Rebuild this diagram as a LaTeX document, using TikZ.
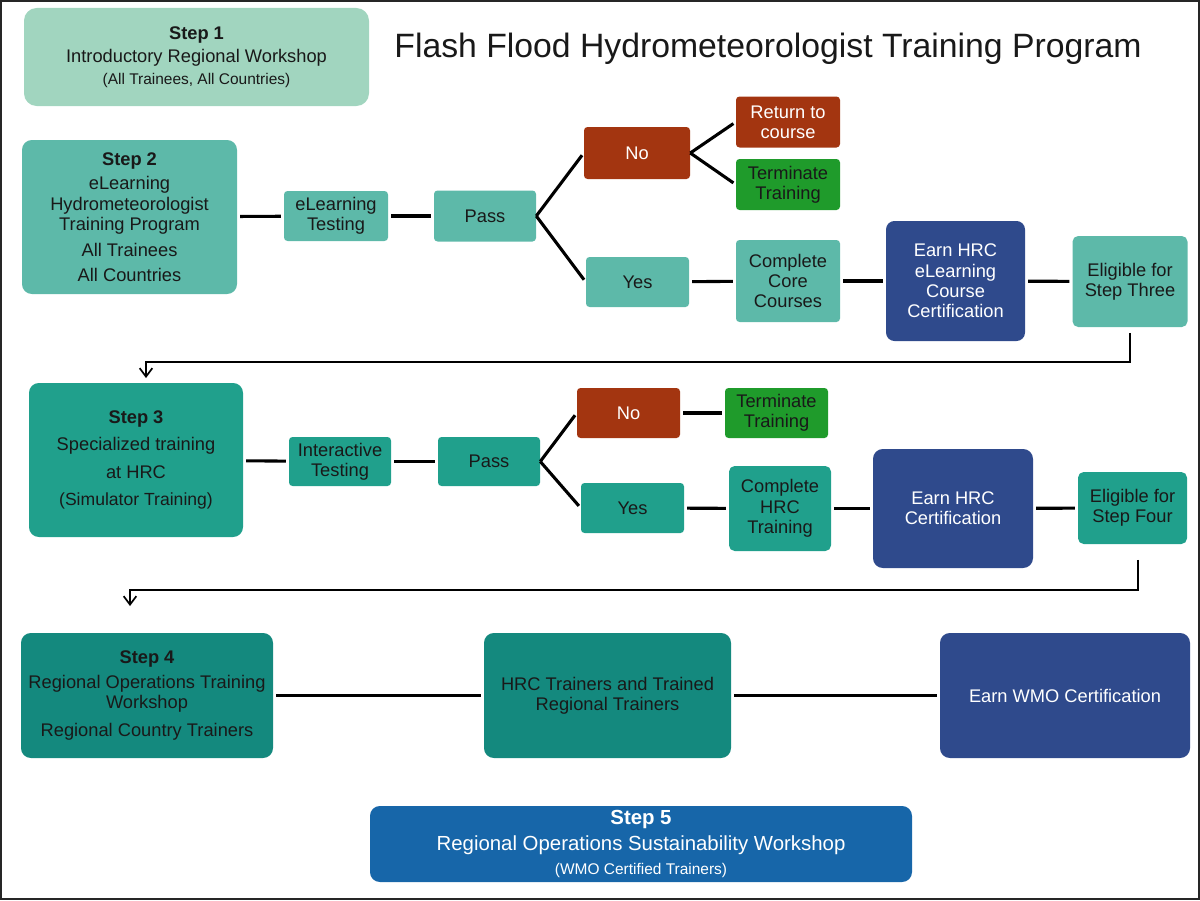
\documentclass[tikz,border=0pt]{standalone}
\usepackage{fontspec}
\setmainfont{Liberation Sans}
\usetikzlibrary{arrows.meta,positioning,calc}

\definecolor{stepone}{HTML}{A1D5BF}
\definecolor{tealtwo}{HTML}{5DB9A9}
\definecolor{tealthree}{HTML}{20A08C}
\definecolor{tealfour}{HTML}{14897E}
\definecolor{failbrown}{HTML}{A33510}
\definecolor{stopgreen}{HTML}{1F9B2B}
\definecolor{certnavy}{HTML}{2F4A8C}
\definecolor{stepfive}{HTML}{1766A9}

\tikzset{
    box/.style={rectangle, rounded corners=2.5pt, inner sep=0pt, align=center,
        text=black!90, font=\fontsize{13}{14.5}\selectfont},
    sz/.style 2 args={minimum width=#1*0.025cm, minimum height=#2*0.025cm},
    link/.style={line width=2.2pt, shorten <=2pt, shorten >=2pt},
    back/.style={line width=1pt, -{Straight Barb[length=6pt,width=9pt,line width=1.2pt]}}
}

\begin{document}
\begin{tikzpicture}[x=0.025cm,y=-0.025cm]
        \useasboundingbox (0,0) rectangle (1200,900);
        \draw[line width=1.4pt,black!85] (1,1) rectangle (1199,899);

        % Step 1 and title
        \node[box, sz={345}{98}, fill=stepone, rounded corners=9pt] (step1) at (196.5,57)
            {\textbf{Step 1}\\[2pt]Introductory Regional Workshop\\[1pt]{\fontsize{11}{13}\selectfont (All Trainees, All Countries)}};
        \node[font=\fontsize{24}{28}\selectfont, text=black!90] (title) at (768,49)
            {Flash Flood Hydrometeorologist Training Program};

        % Step 2 row
        \node[box, sz={215}{154}, fill=tealtwo, rounded corners=7pt] (step2) at (129.5,217)
            {\textbf{Step 2}\\[3pt]eLearning\\Hydrometeorologist\\Training Program\\[4pt]All Trainees\\[3pt]All Countries};
        \node[box, sz={104}{50}, fill=tealtwo] (etest) at (336,216) {eLearning\\Testing};
        \node[box, sz={102}{51}, fill=tealtwo] (pass1) at (485,216) {Pass};
        \node[box, sz={106}{52}, fill=failbrown, text=white] (no1) at (637,153) {No};
        \node[box, sz={104}{51}, fill=failbrown, text=white] (return) at (788,122) {Return to\\course};
        \node[box, sz={104}{51}, fill=stopgreen] (stop1) at (788,184.5) {Terminate\\Training};
        \node[box, sz={103}{50}, fill=tealtwo] (yes1) at (637.5,282) {Yes};
        \node[box, sz={104}{82}, fill=tealtwo] (core) at (788,281) {Complete\\Core\\Courses};
        \node[box, sz={139}{120}, fill=certnavy, text=white, rounded corners=6pt] (earn1) at (955.5,281)
            {Earn HRC\\eLearning\\Course\\Certification};
        \node[box, sz={115}{91}, fill=tealtwo, rounded corners=4pt] (elig1) at (1130,281.5) {Eligible for\\Step Three};

        \draw[link] (step2) -- (etest);
        \draw[link] (etest) -- (pass1);
        \draw[link, shorten <=0pt] (pass1.east) -- (no1.west);
        \draw[link, shorten <=0pt] (pass1.east) -- (yes1.west);
        \draw[link, shorten <=0pt] (no1.east) -- (return.west);
        \draw[link, shorten <=0pt] (no1.east) -- (stop1.west);
        \draw[link] (yes1) -- (core);
        \draw[link] (core) -- (earn1);
        \draw[link] (earn1) -- (elig1);

        % back to Step 3
        \coordinate (bend1) at (146,362);
        \coordinate (tip1) at (146,378);
        \draw[back, shorten <=4pt] (elig1.south) |- (bend1) -- (tip1);

        % Step 3 row
        \node[box, sz={214}{154}, fill=tealthree, rounded corners=7pt] (step3) at (136,460)
            {\textbf{Step 3}\\[5pt]Specialized training\\[5pt]at HRC\\[5pt]{\fontsize{12.5}{14}\selectfont (Simulator Training)}};
        \node[box, sz={102}{49}, fill=tealthree] (itest) at (340,461.5) {Interactive\\Testing};
        \node[box, sz={102}{49}, fill=tealthree] (pass2) at (489,461.5) {Pass};
        \node[box, sz={103}{50}, fill=failbrown, text=white] (no2) at (628.5,413) {No};
        \node[box, sz={103}{50}, fill=stopgreen] (stop2) at (776.5,413) {Terminate\\Training};
        \node[box, sz={103}{50}, fill=tealthree] (yes2) at (632.5,508) {Yes};
        \node[box, sz={102}{85}, fill=tealthree, rounded corners=4pt] (hrctrain) at (780,508.5) {Complete\\HRC\\Training};
        \node[box, sz={160}{119}, fill=certnavy, text=white, rounded corners=7pt] (earn2) at (953,508.5)
            {Earn HRC\\Certification};
        \node[box, sz={109}{72}, fill=tealthree, rounded corners=4pt] (elig2) at (1132.5,508) {Eligible for\\Step Four};

        \draw[link] (step3) -- (itest);
        \draw[link] (itest) -- (pass2);
        \draw[link, shorten <=0pt] (pass2.east) -- (no2.west);
        \draw[link, shorten <=0pt] (pass2.east) -- (yes2.west);
        \draw[link] (no2) -- (stop2);
        \draw[link] (yes2) -- (hrctrain);
        \draw[link] (hrctrain) -- (earn2);
        \draw[link] (earn2) -- (elig2);

        % back to Step 4
        \coordinate (bend2) at (130,590);
        \coordinate (tip2) at (130,606);
        \draw[back, shorten <=11pt] ([xshift=4pt]elig2.south) |- (bend2) -- (tip2);

        % Step 4 row
        \node[box, sz={252}{125}, fill=tealfour, rounded corners=7pt] (step4) at (147,695.5)
            {\textbf{Step 4}\\[3pt]Regional Operations Training\\Workshop\\[5pt]Regional Country Trainers};
        \node[box, sz={247}{125}, fill=tealfour, rounded corners=7pt] (trainers) at (607.5,695.5)
            {HRC Trainers and Trained\\Regional Trainers};
        \node[box, sz={250}{125}, fill=certnavy, text=white, rounded corners=7pt] (wmo) at (1065,695.5)
            {Earn WMO Certification};

        \draw[link] (step4) -- (trainers);
        \draw[link] (trainers) -- (wmo);

        % Step 5
        \node[box, sz={542}{76}, fill=stepfive, text=white, rounded corners=7pt,
            font=\fontsize{14.5}{16.5}\selectfont] (step5) at (641,844)
            {\textbf{Step 5}\\[2pt]Regional Operations Sustainability Workshop\\[1pt]{\fontsize{11}{13}\selectfont (WMO Certified Trainers)}};
\end{tikzpicture}
\end{document}
